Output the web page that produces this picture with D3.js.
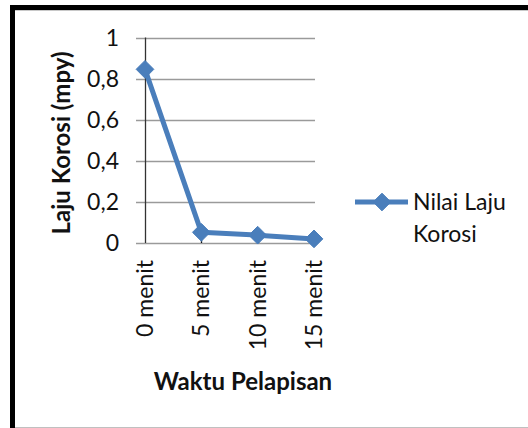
<!DOCTYPE html>
<html><head><meta charset="utf-8">
<script src="https://cdn.jsdelivr.net/npm/d3@7"></script>
<style>body{margin:0;background:#fff}svg{display:block}</style>
</head><body>
<svg id="c" width="528" height="428"></svg>
<script>
const categories = ["0 menit","5 menit","10 menit","15 menit"];
const values = [0.845, 0.052, 0.038, 0.02];
const yTicks = [0, 0.2, 0.4, 0.6, 0.8, 1];
const yTickLabels = ["0","0,2","0,4","0,6","0,8","1"];
const seriesName = ["Nilai Laju", "Korosi"];
const xTitle = "Waktu Pelapisan";
const yTitle = "Laju Korosi (mpy)";

const svg = d3.select("#c");
const font = "Lato, 'Open Sans', sans-serif";
const blue = "#4A7EBB";

// frame
svg.append("rect").attr("x",10).attr("y",5).attr("width",518).attr("height",5).attr("fill","#000");
svg.append("rect").attr("x",10).attr("y",5).attr("width",5).attr("height",423).attr("fill","#000");
svg.append("line").attr("x1",15).attr("x2",528).attr("y1",10.5).attr("y2",10.5).attr("stroke","#c8c8c8");
svg.append("line").attr("x1",15).attr("x2",528).attr("y1",427.5).attr("y2",427.5).attr("stroke","#c0c0c0");

const x = d3.scalePoint().domain(categories).range([145, 314]);
const y = d3.scaleLinear().domain([0,1]).range([243, 37.5]);

// gridlines
svg.append("g").selectAll("line").data(yTicks).join("line")
  .attr("x1",136).attr("x2",315)
  .attr("y1",d=>Math.round(y(d))+0.5).attr("y2",d=>Math.round(y(d))+0.5)
  .attr("stroke","#9a9a9a").attr("stroke-width",1.3);

// y axis line
svg.append("line").attr("x1",145.5).attr("x2",145.5).attr("y1",y(1)).attr("y2",y(0))
  .attr("stroke","#333").attr("stroke-width",1.3);

// y tick labels
svg.append("g").selectAll("text").data(yTicks).join("text")
  .attr("x",119).attr("y",d=>y(d)).attr("dy","0.36em")
  .attr("text-anchor","end").attr("font-family",font).attr("font-size",23).attr("fill","#111")
  .text((d,i)=>yTickLabels[i]);

// x ticks (pointing up)
svg.append("g").selectAll("line").data(categories.slice(1)).join("line")
  .attr("x1",d=>Math.round(x(d))+0.5).attr("x2",d=>Math.round(x(d))+0.5)
  .attr("y1",y(0)-9).attr("y2",y(0))
  .attr("stroke","#111").attr("stroke-width",1.3);

// x tick labels
svg.append("g").selectAll("text").data(categories).join("text")
  .attr("transform",d=>`translate(${x(d)+8},260) rotate(-90)`)
  .attr("text-anchor","end").attr("font-family",font).attr("font-size",23).attr("fill","#111")
  .text(d=>d);

// line
const line = d3.line().x((d,i)=>x(categories[i])).y(d=>y(d));
svg.append("path").datum(values).attr("d",line).attr("fill","none")
  .attr("stroke",blue).attr("stroke-width",5).attr("stroke-linejoin","round");

const diamond = d3.symbol().type(d3.symbolDiamond2).size(200);
svg.append("g").selectAll("path").data(values).join("path")
  .attr("d",diamond)
  .attr("transform",(d,i)=>`translate(${x(categories[i])},${y(d)})`)
  .attr("fill",blue).attr("stroke",blue).attr("stroke-width",1).attr("stroke-linejoin","round");

// axis titles
svg.append("text").attr("transform",`translate(70,143) rotate(-90)`)
  .attr("text-anchor","middle").attr("font-family",font).attr("font-weight","bold")
  .attr("font-size",24).attr("fill","#111").text(yTitle);
svg.append("text").attr("x",243).attr("y",390)
  .attr("text-anchor","middle").attr("font-family",font).attr("font-weight","bold")
  .attr("font-size",24).attr("fill","#111").text(xTitle);

// legend
svg.append("line").attr("x1",355).attr("x2",408).attr("y1",202).attr("y2",202)
  .attr("stroke",blue).attr("stroke-width",5);
svg.append("path").attr("d",diamond).attr("transform","translate(382,202)")
  .attr("fill",blue).attr("stroke",blue);
svg.append("g").selectAll("text").data(seriesName).join("text")
  .attr("x",413).attr("y",(d,i)=>210+i*32)
  .attr("font-family",font).attr("font-size",23).attr("fill","#111").text(d=>d);
</script>
</body></html>
